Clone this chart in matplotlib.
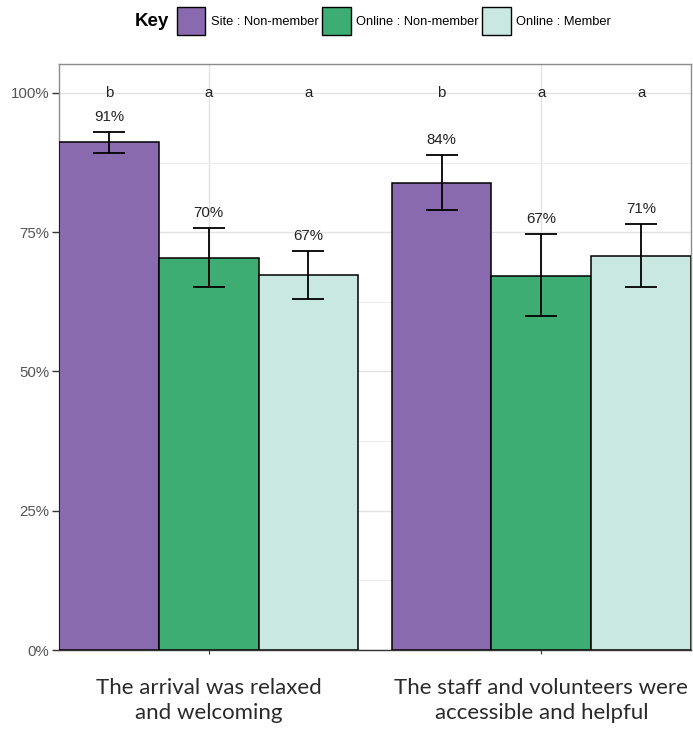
import matplotlib.pyplot as plt
from matplotlib.patches import Patch
import numpy as np

plt.rcParams['font.family'] = ['Liberation Sans', 'DejaVu Sans']

# survey statements and groups
questions = ['The arrival was relaxed\nand welcoming',
             'The staff and volunteers were\naccessible and helpful']
groups = ['Site : Non-member', 'Online : Non-member', 'Online : Member']
colors = ['#8a6aae', '#3ead73', '#c8e8e1']

# percent agreeing, per group (rows) and question (columns)
site_nm = [91.2, 83.9]
online_nm = [70.4, 67.2]
online_m = [67.3, 70.7]
# confidence interval limits
site_nm_lo = [89.3, 78.9]
site_nm_hi = [93.0, 88.9]
online_nm_lo = [65.1, 60.0]
online_nm_hi = [75.8, 74.6]
online_m_lo = [63.1, 65.1]
online_m_hi = [71.6, 76.4]
# significance letters
site_nm_sig = ['b', 'b']
online_nm_sig = ['a', 'a']
online_m_sig = ['a', 'a']

values = [site_nm, online_nm, online_m]
lows = [site_nm_lo, online_nm_lo, online_m_lo]
highs = [site_nm_hi, online_nm_hi, online_m_hi]
sigs = [site_nm_sig, online_nm_sig, online_m_sig]

fig = plt.figure(figsize=(6.93, 7.33), dpi=100)
ax = fig.add_axes([59 / 693, 1 - 650 / 733, 632 / 693, 586 / 733])

x = np.arange(1, len(questions) + 1)
w = 0.3
for i in range(3):
    pos = x + (i - 1) * w
    v = np.array(values[i])
    lo = np.array(lows[i])
    hi = np.array(highs[i])
    ax.bar(pos, v, width=w, color=colors[i], edgecolor='black', linewidth=1.1, zorder=3)
    ax.errorbar(pos, v, yerr=[v - lo, hi - v], fmt='none', ecolor='black',
                elinewidth=1.3, capsize=11.5, capthick=1.3, zorder=4)
    for p, val, h, s in zip(pos, v, hi, sigs[i]):
        ax.text(p, h + 2.7, f'{val:.0f}%', ha='center', va='center', fontsize=10.8, color='#222222')
        ax.text(p, 100, s, ha='center', va='center', fontsize=10.8, color='#222222')

ax.set_xlim(0.55, 2.45)
ax.set_ylim(0, 105.2)
ax.set_yticks([0, 25, 50, 75, 100])
ax.set_yticklabels(['0%', '25%', '50%', '75%', '100%'], fontsize=10.8, color='#555555')
ax.set_yticks([12.5, 37.5, 62.5, 87.5], minor=True)
ax.set_xticks(x)
ax.set_xticklabels(questions, fontsize=16, family='Lato', fontweight='normal',
                   color='#2a2a2a', linespacing=1.3)
ax.tick_params(axis='x', length=3, width=0.8, color='#333333', pad=17)
ax.tick_params(axis='y', which='major', length=5, width=1, color='#333333', pad=2)
ax.tick_params(axis='y', which='minor', length=0)
ax.grid(True, which='major', color='#e3e3e3', linewidth=1, zorder=0)
ax.grid(True, which='minor', axis='y', color='#ececec', linewidth=0.7, zorder=0)
ax.set_axisbelow(True)
for side in ['top', 'left', 'right']:
    ax.spines[side].set_color('#8c8c8c')
    ax.spines[side].set_linewidth(1)
ax.spines['bottom'].set_color('#333333')
ax.spines['bottom'].set_linewidth(1)

# legend
fig.text(152 / 693, 1 - 21 / 733, 'Key', ha='center', va='center', fontsize=13.5, fontweight='bold')
handles = [Patch(facecolor=c, edgecolor='black', linewidth=1) for c in colors]
fig.legend(handles, groups, loc='center left', bbox_to_anchor=(177 / 693, 1 - 21 / 733),
           ncol=3, frameon=False, fontsize=9.3, handlelength=2.2, handleheight=3.0,
           handletextpad=0.4, columnspacing=0.3, borderpad=0, borderaxespad=0)

fig.savefig('out.png', dpi=100)
